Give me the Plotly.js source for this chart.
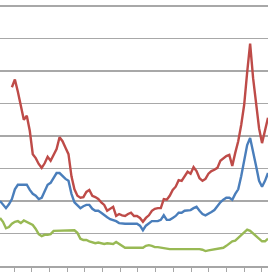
<!DOCTYPE html>
<html>
<head>
<meta charset="utf-8">
<script src="https://cdn.plot.ly/plotly-3.0.1.min.js"></script>
<style>html,body{margin:0;padding:0;background:#fff;}#chart{width:273px;height:273px;}</style>
</head>
<body>
<div id="chart"></div>
<script>
// period index 0..90
const periods = Array.from({length: 91}, (_, i) => i);

const seriesRed = [null, null, null, null,
  27.5, 28.7, 26.8, 24.6, 22.5, 23.1, 20.8, 17.2, 16.6, 15.7, 15.1, 15.8, 16.8, 16.2, 17.1, 18.0,
  19.8, 19.2, 18.2, 17.2, 13.8, 11.8, 10.8, 10.5, 10.6, 11.4, 11.7, 10.8, 10.6, 10.3, 9.8, 9.4,
  8.5, 8.8, 9.1, 7.7, 8.0, 7.8, 7.7, 8.0, 8.2, 7.7, 7.7, 7.4, 6.8, 7.4, 7.8, 8.5, 8.8, 8.9, 8.9,
  10.3, 10.2, 10.8, 11.7, 12.2, 13.2, 13.1, 13.8, 14.5, 14.2, 15.2, 14.6, 13.5, 13.1, 13.4, 14.2,
  14.6, 14.8, 15.1, 16.2, 16.6, 16.9, 17.1, 15.4, 17.4, 19.2, 21.7, 24.8, 29.8, 34.2, 28.9, 24.9,
  21.2, 18.9, 20.9, 22.8];

const seriesBlue = [10.0, 9.5, 8.9, 9.5, 10.3, 11.8, 12.5, 12.5, 12.5, 12.5, 11.7, 11.1, 10.8, 10.3,
  10.5, 11.5, 12.5, 12.8, 13.5, 14.3, 14.3, 13.8, 13.4, 13.1, 11.1, 9.8, 9.4, 8.9, 9.2, 9.4, 9.4,
  8.8, 8.5, 8.5, 8.2, 7.8, 7.5, 7.2, 7.1, 6.9, 6.6, 6.5, 6.5, 6.5, 6.5, 6.5, 6.5, 6.2, 5.5, 6.2,
  6.6, 6.9, 6.9, 6.9, 7.1, 7.8, 7.1, 7.1, 7.4, 7.7, 8.2, 8.2, 8.5, 8.6, 8.6, 8.9, 9.1, 8.5, 8.0,
  7.8, 8.0, 8.3, 8.6, 9.2, 9.8, 10.2, 10.5, 10.5, 10.2, 11.1, 11.8, 13.8, 16.0, 18.6, 19.7, 17.7,
  15.4, 13.1, 12.2, 13.1, 14.3];

const seriesGreen = [7.4, 6.8, 5.8, 6.0, 6.5, 6.8, 6.9, 6.6, 7.0, 6.8, 6.6, 6.3, 5.7, 4.9, 4.6, 4.8,
  4.8, 4.9, 5.4, 5.4, 5.4, 5.4, 5.4, 5.4, 5.5, 5.5, 5.1, 4.2, 4.0, 4.0, 3.8, 3.7, 3.5, 3.6, 3.5,
  3.4, 3.5, 3.5, 3.4, 3.7, 3.4, 3.1, 2.8, 2.8, 2.8, 2.8, 2.8, 2.7, 2.8, 3.1, 3.2, 3.1, 2.9, 2.9,
  2.8, 2.7, 2.6, 2.6, 2.6, 2.6, 2.7, 2.6, 2.6, 2.6, 2.6, 2.6, 2.6, 2.6, 2.5, 2.3, 2.4, 2.5, 2.6,
  2.7, 2.8, 2.8, 3.1, 3.5, 3.8, 3.9, 4.3, 4.8, 5.2, 5.6, 5.4, 5.0, 4.6, 4.2, 3.8, 3.8, 4.2];

const colors = {red: '#be4b48', blue: '#4a7ebb', green: '#98b954'};

function line(y, c) {
  return {x: periods, y: y, type: 'scatter', mode: 'lines',
    line: {color: c, width: 2.4}, hoverinfo: 'skip', connectgaps: false};
}

const data = [line(seriesGreen, colors.green), line(seriesBlue, colors.blue), line(seriesRed, colors.red)];

const layout = {
  width: 273, height: 273,
  margin: {l: 0, r: 5, t: 0, b: 7},
  paper_bgcolor: '#ffffff', plot_bgcolor: '#ffffff',
  showlegend: false,
  xaxis: {range: [0, 90], showgrid: false, zeroline: false, showticklabels: false,
    showline: true, linecolor: '#a6a6a6', linewidth: 1.5,
    ticks: 'outside', ticklen: 4, tickwidth: 1, tickcolor: '#a6a6a6',
    tickmode: 'linear', tick0: 4.7, dtick: 5.948},
  yaxis: {range: [0, 40.92], showgrid: true, gridcolor: '#a8a8a8', gridwidth: 1.4,
    tickmode: 'linear', tick0: 0, dtick: 5, zeroline: false, showticklabels: false, ticks: ''}
};

Plotly.newPlot('chart', data, layout, {staticPlot: true, displayModeBar: false});
</script>
</body>
</html>
